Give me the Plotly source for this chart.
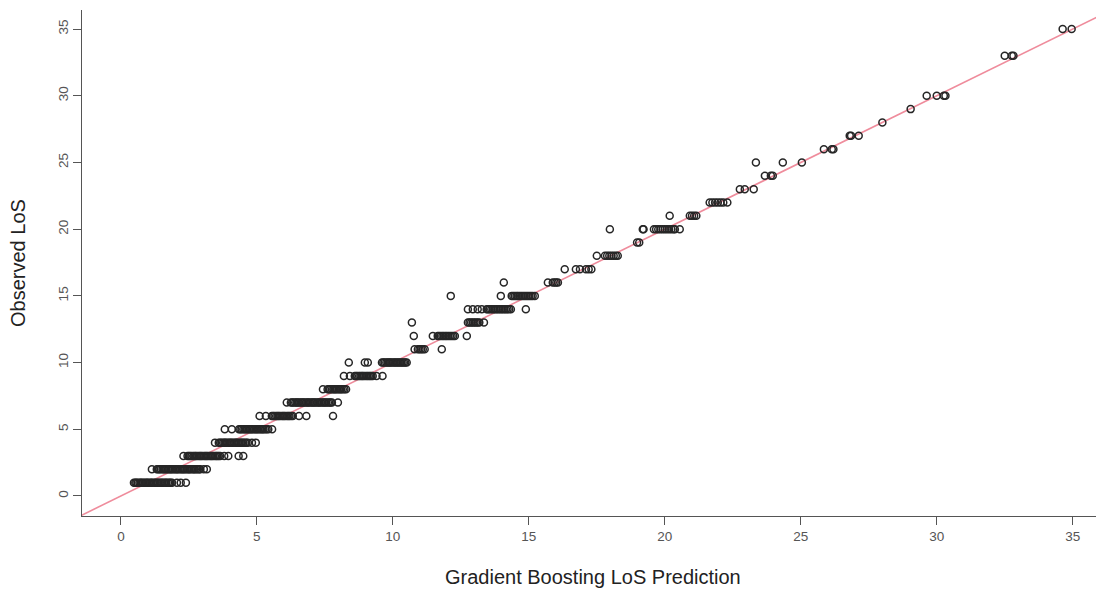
import plotly.graph_objects as go

obs1_pred = [0.48,0.53,0.57,0.62,0.68,0.73,0.77,0.82,0.88,0.93,0.97,1.02,1.08,1.12,1.17,1.23,1.28,1.33,1.37,1.43,1.48,1.52,1.58,1.63,1.67,1.73,1.78,1.83,1.88,2.06,2.2,2.39]
obs2_pred = [1.14,1.32,1.37,1.42,1.47,1.53,1.58,1.62,1.67,1.73,1.78,1.83,1.87,1.92,1.98,2.03,2.07,2.12,2.18,2.23,2.28,2.32,2.37,2.43,2.48,2.52,2.57,2.63,2.68,2.72,2.77,2.83,2.88,2.92,3.05,3.16]
obs3_pred = [2.3,2.45,2.5,2.55,2.6,2.66,2.71,2.75,2.8,2.86,2.91,2.95,3.0,3.06,3.11,3.15,3.2,3.26,3.31,3.35,3.4,3.46,3.51,3.55,3.6,3.65,3.8,3.95,4.33,4.5]
obs4_pred = [3.46,3.6,3.65,3.7,3.76,3.81,3.85,3.9,3.96,4.01,4.05,4.1,4.16,4.21,4.25,4.3,4.36,4.41,4.45,4.5,4.56,4.61,4.67,4.82,4.96]
obs5_pred = [3.82,4.08,4.34,4.39,4.44,4.5,4.55,4.6,4.64,4.7,4.75,4.8,4.84,4.9,4.95,5.0,5.04,5.1,5.15,5.2,5.24,5.3,5.36,5.42,5.56]
obs6_pred = [5.1,5.33,5.55,5.6,5.65,5.71,5.76,5.8,5.85,5.91,5.96,6.0,6.05,6.11,6.16,6.2,6.26,6.32,6.55,6.82,7.8]
obs7_pred = [6.1,6.25,6.3,6.35,6.41,6.46,6.5,6.55,6.61,6.66,6.7,6.75,6.81,6.86,6.9,6.95,7.01,7.06,7.1,7.15,7.21,7.26,7.3,7.35,7.41,7.46,7.5,7.55,7.61,7.66,7.71,7.76,7.98]
obs8_pred = [7.43,7.6,7.65,7.7,7.76,7.81,7.86,7.9,7.95,8.01,8.06,8.1,8.16,8.22,8.28]
obs9_pred = [8.2,8.42,8.6,8.65,8.7,8.76,8.81,8.86,8.9,8.95,9.01,9.06,9.11,9.16,9.21,9.26,9.4,9.62]
obs10_pred = [8.38,8.97,9.08,9.6,9.65,9.7,9.76,9.81,9.86,9.9,9.95,10.01,10.06,10.11,10.16,10.21,10.26,10.31,10.36,10.41,10.46,10.51]
obs11_pred = [10.8,10.92,10.98,11.04,11.1,11.17,11.8]
obs12_pred = [10.77,11.47,11.65,11.7,11.76,11.82,11.87,11.93,11.98,12.04,12.1,12.16,12.22,12.28,12.72]
obs13_pred = [10.7,12.76,12.82,12.88,12.94,13.0,13.06,13.12,13.18,13.35]
obs14_pred = [12.76,12.94,13.12,13.27,13.45,13.5,13.56,13.62,13.68,13.74,13.8,13.86,13.92,13.98,14.04,14.1,14.16,14.22,14.28,14.34,14.89]
obs15_pred = [12.13,13.97,14.37,14.43,14.49,14.55,14.6,14.66,14.72,14.78,14.84,14.9,14.96,15.02,15.08,15.14,15.22]
obs16_pred = [14.08,15.7,15.88,15.95,16.01,16.07]
obs17_pred = [16.32,16.73,16.88,17.1,17.2,17.3]
obs18_pred = [17.5,17.8,17.88,17.96,18.04,18.12,18.2,18.27]
obs19_pred = [18.98,19.06]
obs20_pred = [17.98,19.19,19.22,19.6,19.68,19.76,19.84,19.92,20.0,20.08,20.16,20.24,20.32,20.37,20.55]
obs21_pred = [20.18,20.92,21.0,21.08,21.16]
obs22_pred = [21.65,21.75,21.85,21.95,22.05,22.15,22.3]
obs23_pred = [22.76,22.94,23.27]
obs24_pred = [23.68,23.9,23.97]
obs25_pred = [23.35,24.34,25.04]
obs26_pred = [25.85,26.14,26.2]
obs27_pred = [26.8,26.85,27.13]
obs28_pred = [28.0]
obs29_pred = [29.04]
obs30_pred = [29.63,30.0,30.26,30.32]
obs33_pred = [32.5,32.76,32.82]
obs35_pred = [34.63,34.96]

observed_levels = [1,2,3,4,5,6,7,8,9,10,11,12,13,14,15,16,17,18,19,20,21,22,23,24,25,26,27,28,29,30,33,35]
pred_groups = [obs1_pred, obs2_pred, obs3_pred, obs4_pred, obs5_pred, obs6_pred, obs7_pred,
               obs8_pred, obs9_pred, obs10_pred, obs11_pred, obs12_pred, obs13_pred, obs14_pred,
               obs15_pred, obs16_pred, obs17_pred, obs18_pred, obs19_pred, obs20_pred, obs21_pred,
               obs22_pred, obs23_pred, obs24_pred, obs25_pred, obs26_pred, obs27_pred, obs28_pred,
               obs29_pred, obs30_pred, obs33_pred, obs35_pred]

tick_vals = [0, 5, 10, 15, 20, 25, 30, 35]
x_title = "Gradient Boosting LoS Prediction"
y_title = "Observed LoS"

xs, ys = [], []
for lvl, grp in zip(observed_levels, pred_groups):
    xs.extend(grp)
    ys.extend([lvl] * len(grp))

x_range = [-1.43, 36.15]
y_range = [-1.5, 36.43]

FONT = "Liberation Sans, Arial, sans-serif"

fig = go.Figure()
fig.add_trace(go.Scatter(
    x=[-3, 40], y=[-3, 40], mode="lines",
    line=dict(color="#ef8c9c", width=1.6), hoverinfo="skip", showlegend=False,
))
fig.add_trace(go.Scatter(
    x=xs, y=ys, mode="markers",
    marker=dict(symbol="circle-open", size=7, color="#262626", line=dict(width=1.5)),
    showlegend=False,
))

axis_common = dict(
    showgrid=False, zeroline=False, showline=True, linecolor="#555555", linewidth=1,
    ticks="outside", ticklen=8, tickcolor="#555555", tickwidth=1,
    tickvals=tick_vals, ticktext=[str(v) for v in tick_vals],
    tickfont=dict(family=FONT, size=13.5, color="#555555"),
)

# the page body adds an 8px offset, so the figure is sized/margined to compensate
fig.update_layout(
    width=1096, height=582,
    margin=dict(l=74, r=0, t=2, b=74),
    paper_bgcolor="white", plot_bgcolor="white",
    xaxis=dict(range=x_range, **axis_common),
    yaxis=dict(range=y_range, tickangle=-90, **axis_common),
    annotations=[
        dict(text=x_title, x=0.5, y=0, xref="paper", yref="paper",
             xanchor="center", yanchor="middle", yshift=-61, showarrow=False,
             font=dict(family=FONT, size=20, color="#222222")),
        dict(text=y_title, x=0, y=0.5, xref="paper", yref="paper",
             xanchor="center", yanchor="middle", xshift=-64, textangle=-90, showarrow=False,
             font=dict(family=FONT, size=20, color="#222222")),
    ],
)

fig.write_html("out.html")
